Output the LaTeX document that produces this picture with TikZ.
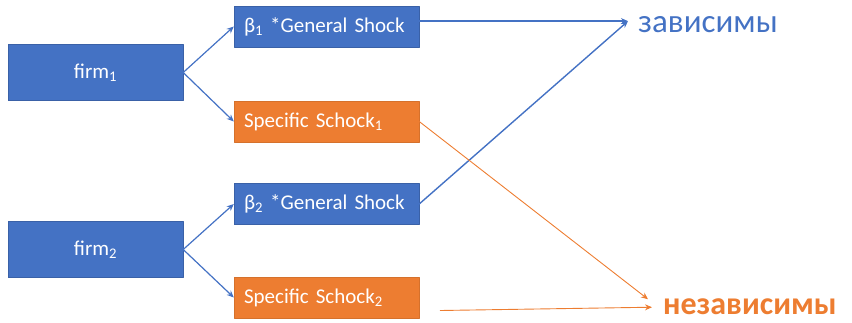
\documentclass[tikz,border=0pt]{standalone}
\usepackage{fontspec}
\setmainfont{Carlito}
\usetikzlibrary{arrows.meta}
\definecolor{offblue}{RGB}{68,114,196}
\definecolor{offorange}{RGB}{237,125,49}
\tikzset{
  firmbox/.style={fill=offblue, draw=offblue!85!black, line width=.4pt, minimum width=175pt, minimum height=56pt, text=white, font=\fontsize{21}{24}\selectfont},
  shockbox/.style={fill=offblue, draw=offblue!85!black, line width=.4pt, minimum height=41pt, text width=165pt, inner xsep=10pt, align=left, text=white, font=\fontsize{21}{24}\selectfont},
  specbox/.style={shockbox, fill=offorange, draw=offorange!90!black},
  blueline/.style={draw=offblue, line width=1.4pt, -{Stealth[length=7pt,width=6pt]}},
  orangeline/.style={draw=offorange, line width=.9pt, -{Stealth[length=7pt,width=6pt]}}
}
\begin{document}
\begin{tikzpicture}[x=1pt, y=-1pt, line join=round, line cap=round]
        \useasboundingbox (0,0) rectangle (852,322);
        \path
        (95.5,72.5) coordinate (F1)
        (95.5,249.5) coordinate (F2)
        (326.5,26.5) coordinate (G1)
        (326.5,121.5) coordinate (S1)
        (326.5,204) coordinate (G2)
        (326.5,297.5) coordinate (S2);
        \node[firmbox] (firm1) at (F1) {firm\textsubscript{1}};
        \node[firmbox] (firm2) at (F2) {firm\textsubscript{2}};
        \node[shockbox] (gen1) at (G1) {β\textsubscript{1} *General Shock};
        \node[shockbox] (gen2) at (G2) {β\textsubscript{2} *General Shock};
        \node[specbox] (spec1) at (S1) {Specific Schock\textsubscript{1}};
        \node[specbox] (spec2) at (S2) {Specific Schock\textsubscript{2}};
        \node[anchor=base west, inner sep=0, text=offblue, font=\fontsize{33}{36}\selectfont] (dep) at (638,32) {зависимы};
        \node[anchor=base west, inner sep=0, text=offorange, font=\fontsize{32}{36}\selectfont\bfseries] (indep) at (663,314) {независимы};
        \coordinate (depin) at ([xshift=-10pt,yshift=3pt]dep.west);
        \coordinate (indepinA) at ([xshift=-15pt,yshift=7pt]indep.west);
        \coordinate (indepinB) at ([xshift=-11pt,yshift=-1pt]indep.west);
        \coordinate (spec2out) at ([xshift=21pt,yshift=-13pt]spec2.east);
        % firms to shocks
        \foreach \f/\n in {firm1/1,firm2/2}{
                \draw[blueline, line width=1.2pt] (\f.east) -- (gen\n.west);
                \draw[blueline, line width=1.2pt] (\f.east) -- (spec\n.west);
        }
        % shocks to results
        \draw[blueline] (gen1.east |- depin) -- (depin);
        \draw[blueline] (gen2.east) -- (depin);
        \draw[orangeline] (spec1.east) -- (indepinA);
        \draw[orangeline] (spec2out) -- (indepinB);
\end{tikzpicture}
\end{document}
